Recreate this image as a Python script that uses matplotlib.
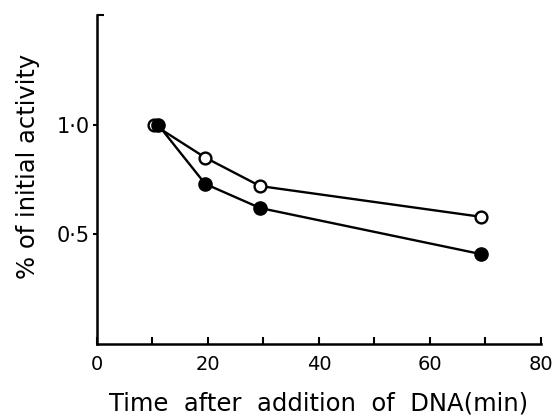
import matplotlib.pyplot as plt
from matplotlib.ticker import FixedLocator

# values
time_open = [10.2, 19.5, 29.4, 69.2]
act_open = [1.0, 0.85, 0.72, 0.58]
time_filled = [11.0, 19.5, 29.4, 69.2]
act_filled = [1.0, 0.73, 0.62, 0.41]

x_major = [0, 20, 40, 60, 80]
x_minor = [10, 30, 50, 70]
y_ticks = [0.5, 1.0]
y_labels = ['0\u00b75', '1\u00b70']

plt.rcParams['font.family'] = 'DejaVu Sans'

fig = plt.figure(figsize=(5.52, 4.15), dpi=100)
ax = fig.add_axes([0.1757, 0.171, 0.804, 0.793])

ax.plot(time_open, act_open, '-o', color='black', lw=1.7,
        ms=8.5, mfc='white', mec='black', mew=1.7, zorder=3)
ax.plot(time_filled, act_filled, '-o', color='black', lw=1.7,
        ms=9.5, mfc='black', mec='black', zorder=4)

ax.set_xlim(0, 80)
ax.set_ylim(0, 1.5)
for s in ['top', 'right']:
    ax.spines[s].set_visible(False)
for s in ['left', 'bottom']:
    ax.spines[s].set_linewidth(1.8)

ax.set_xticks(x_major)
ax.xaxis.set_minor_locator(FixedLocator(x_minor))
ax.tick_params(axis='x', which='both', direction='in', length=5, width=1.5,
               labelsize=14, pad=8)
ax.set_yticks(y_ticks)
ax.set_yticklabels(y_labels)
ax.yaxis.set_minor_locator(FixedLocator([1.5]))
ax.tick_params(axis='y', which='major', direction='out', length=3, width=1.5,
               labelsize=15, pad=2)
ax.tick_params(axis='y', which='minor', direction='in', length=5, width=1.5)

ax.set_xlabel('Time  after  addition  of  DNA(min)', fontsize=17.5)
ax.xaxis.set_label_coords(0.499, -0.143)
ax.set_ylabel('% of initial activity', fontsize=17.5)
ax.yaxis.set_label_coords(-0.128, 0.54)

fig.savefig('out.png', dpi=100)
